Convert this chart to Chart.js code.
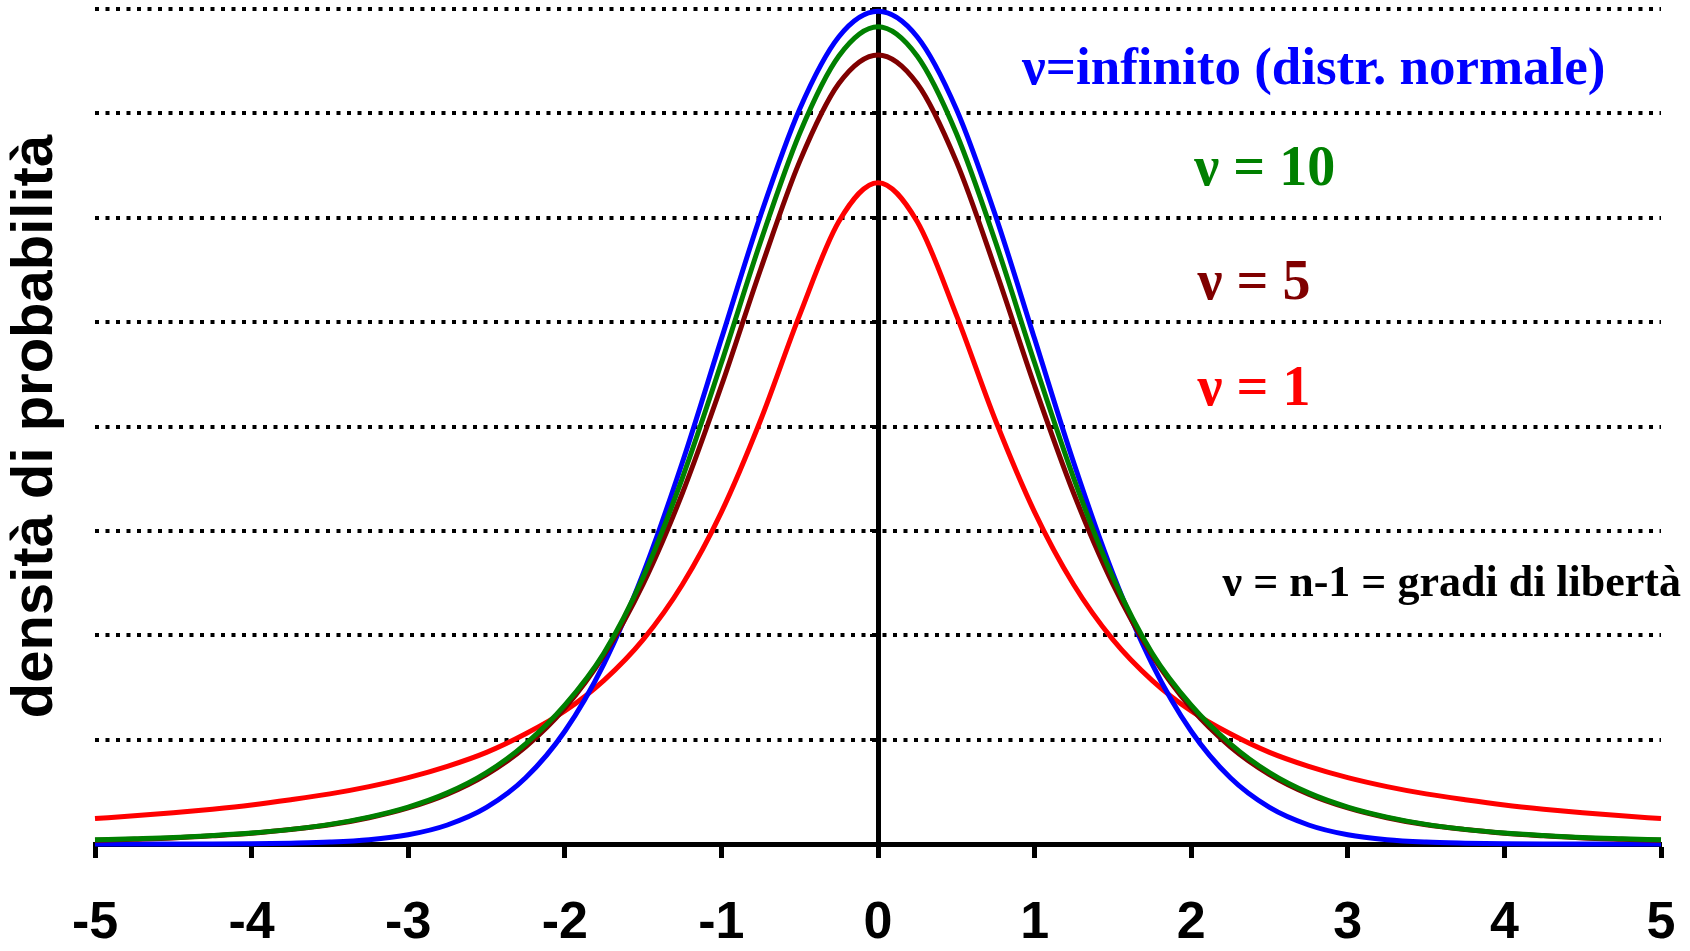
<!DOCTYPE html>
<html>
<head>
<meta charset="utf-8">
<script src="https://cdn.jsdelivr.net/npm/chart.js@4.4.0/dist/chart.umd.min.js"></script>
<style>
  html, body { margin: 0; padding: 0; background: #ffffff; }
  #wrap { width: 1690px; height: 951px; position: relative; }
</style>
</head>
<body>
<div id="wrap"><canvas id="c" width="1690" height="951"></canvas></div>
<script>
// ---- data ----
const xValues = [-5, -4.75, -4.5, -4.25, -4, -3.75, -3.5, -3.25, -3, -2.75, -2.5, -2.25, -2, -1.75, -1.5, -1.25, -1, -0.75, -0.5, -0.25, 0,
                 0.25, 0.5, 0.75, 1, 1.25, 1.5, 1.75, 2, 2.25, 2.5, 2.75, 3, 3.25, 3.5, 3.75, 4, 4.25, 4.5, 4.75, 5];

const normalValues = [0, 0, 0, 0, 0.0001, 0.0004, 0.0009, 0.0020, 0.0044, 0.0091, 0.0175, 0.0317, 0.0540, 0.0863, 0.1295, 0.1826, 0.2420, 0.3011, 0.3521, 0.3867, 0.3989,
                      0.3867, 0.3521, 0.3011, 0.2420, 0.1826, 0.1295, 0.0863, 0.0540, 0.0317, 0.0175, 0.0091, 0.0044, 0.0020, 0.0009, 0.0004, 0.0001, 0, 0, 0, 0];

const nu10Values = [0.0020, 0.0025, 0.0031, 0.0041, 0.0053, 0.0070, 0.0094, 0.0129, 0.0177, 0.0245, 0.0342, 0.0480, 0.0665, 0.0915, 0.1278, 0.1752, 0.2305, 0.2885, 0.3405, 0.3775, 0.3915,
                    0.3775, 0.3405, 0.2885, 0.2305, 0.1752, 0.1278, 0.0915, 0.0665, 0.0480, 0.0342, 0.0245, 0.0177, 0.0129, 0.0094, 0.0070, 0.0053, 0.0041, 0.0031, 0.0025, 0.0020];

const nu5Values = [0.0018, 0.0023, 0.0029, 0.0039, 0.0051, 0.0069, 0.0092, 0.0126, 0.0173, 0.0239, 0.0333, 0.0466, 0.0651, 0.0905, 0.1245, 0.1679, 0.2195, 0.2752, 0.3270, 0.3643, 0.3780,
                   0.3643, 0.3270, 0.2752, 0.2195, 0.1679, 0.1245, 0.0905, 0.0651, 0.0466, 0.0333, 0.0239, 0.0173, 0.0126, 0.0092, 0.0069, 0.0051, 0.0039, 0.0029, 0.0023, 0.0018];

const nu1Values = [0.0122, 0.0135, 0.0150, 0.0167, 0.0187, 0.0212, 0.0240, 0.0275, 0.0318, 0.0372, 0.0439, 0.0528, 0.0637, 0.0784, 0.0979, 0.1242, 0.1590, 0.2030, 0.2535, 0.2982, 0.3168,
                   0.2982, 0.2535, 0.2030, 0.1590, 0.1242, 0.0979, 0.0784, 0.0637, 0.0528, 0.0439, 0.0372, 0.0318, 0.0275, 0.0240, 0.0212, 0.0187, 0.0167, 0.0150, 0.0135, 0.0122];

const seriesNames = ['ν = 10', 'ν = 5', 'ν=infinito (distr. normale)', 'ν = 1'];
const yAxisTitle = 'densità di probabilità';
const noteTexts = ['ν=infinito (distr. normale)', 'ν = 10', 'ν = 5', 'ν = 1', 'ν = n-1 = gradi di libertà'];

// ---- styling / placement ----
const colors = { blue: '#0000ff', green: '#008000', brown: '#800000', red: '#ff0000' };
const notes = [
  { text: noteTexts[0], color: colors.blue,  x: 0.92, y: 0.364,  size: 53 },
  { text: noteTexts[1], color: colors.green, x: 2.02, y: 0.3157, size: 56 },
  { text: noteTexts[2], color: colors.brown, x: 2.04, y: 0.2613, size: 56 },
  { text: noteTexts[3], color: colors.red,   x: 2.04, y: 0.2103, size: 56 },
  { text: noteTexts[4], color: '#000000',    x: 2.20, y: 0.1188, size: 44 }
];

const toPoints = ys => xValues.map((x, i) => ({ x: x, y: ys[i] }));
const makeSet = (name, ys, color) => ({
  label: name, data: toPoints(ys), borderColor: color, backgroundColor: color,
  borderWidth: 5, pointRadius: 0, pointHoverRadius: 0, fill: false,
  cubicInterpolationMode: 'monotone', clip: false
});

const notesPlugin = {
  id: 'notes',
  afterDatasetsDraw(chart) {
    const { ctx, scales } = chart;
    ctx.save();
    ctx.textAlign = 'left';
    ctx.textBaseline = 'alphabetic';
    notes.forEach(n => {
      ctx.font = 'bold ' + n.size + 'px "Liberation Serif", "Times New Roman", serif';
      ctx.fillStyle = n.color;
      ctx.fillText(n.text, scales.x.getPixelForValue(n.x), scales.y.getPixelForValue(n.y));
    });
    ctx.restore();
  }
};

new Chart(document.getElementById('c').getContext('2d'), {
  type: 'line',
  data: {
    datasets: [
      makeSet(seriesNames[0], nu10Values, colors.green),
      makeSet(seriesNames[1], nu5Values, colors.brown),
      makeSet(seriesNames[2], normalValues, colors.blue),
      makeSet(seriesNames[3], nu1Values, colors.red)
    ]
  },
  options: {
    responsive: false,
    animation: false,
    devicePixelRatio: 1,
    layout: { padding: { top: 9, right: 29, left: 0, bottom: 0 } },
    plugins: { legend: { display: false }, tooltip: { enabled: false } },
    events: [],
    scales: {
      x: {
        type: 'linear', position: 'bottom', min: -5, max: 5,
        ticks: { stepSize: 1, color: '#000', autoSkip: false, maxRotation: 0, padding: 34,
                 font: { family: '"Liberation Sans", Arial, sans-serif', weight: 'bold', size: 52 } },
        grid: { drawOnChartArea: false, drawTicks: true, tickLength: 14, tickWidth: 5, tickColor: '#000' },
        border: { display: true, color: '#000', width: 5 },
        afterFit(s) { s.height = 107; s.paddingLeft = 0; s.paddingRight = 0; }
      },
      y: {
        type: 'linear', position: 'left', min: 0, max: 0.4,
        ticks: { display: false, stepSize: 0.05 },
        grid: { drawTicks: false, color: '#000', lineWidth: 4 },
        border: { display: false, dash: [4, 6.5] },
        title: { display: true, text: yAxisTitle, color: '#000', padding: { top: 1, bottom: 0 },
                 font: { family: '"Liberation Sans", Arial, sans-serif', weight: 'bold', size: 58 } },
        afterFit(s) { s.width = 95; s.paddingTop = 0; s.paddingBottom = 0; }
      },
      y2: {
        type: 'linear', position: { x: 0 }, min: 0, max: 0.4, z: 1,
        ticks: { display: false, stepSize: 0.05 },
        grid: { drawOnChartArea: false, drawTicks: true, tickLength: 6, tickWidth: 3, tickColor: '#000' },
        border: { display: true, color: '#000', width: 5 }
      }
    }
  },
  plugins: [notesPlugin]
});
</script>
</body>
</html>
